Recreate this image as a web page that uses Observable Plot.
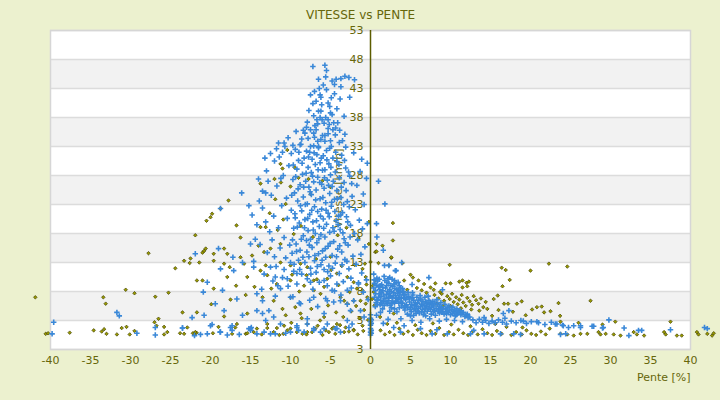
<!DOCTYPE html>
<html><head><meta charset="utf-8">
<script src="https://cdn.jsdelivr.net/npm/d3@7"></script>
<script src="https://cdn.jsdelivr.net/npm/@observablehq/plot@0.6"></script>
<style>html,body{margin:0;padding:0;background:#ecf1cf;}</style>
</head><body><div id="chart"></div>
<script>
const title = "VITESSE vs PENTE";
const xLabel = "Pente [%]";
const yLabel = "Vitesse [km/h]";
const xTicks = [-40,-35,-30,-25,-20,-15,-10,-5,0,5,10,15,20,25,30,35,40];
const yTickValues = [53,48,43,38,33,28,23,18,13,8,3,-2];
const yTickLabels = ["53","48","43","38","33","28","23","18","13","8","3","3"];
const bandStarts = [43,33,23,13,3];

// Blue series: [pente %, vitesse km/h]
const blueHigh = [[-7.2,46.8],[-5.7,47.0],[-5.5,46.1],[-6.5,44.6],[-4.8,44.3],[-4.3,44.6],[-3.7,44.7],[-3.2,45.1],[-2.7,44.9],[-2.0,44.5],[-4.5,43.7],[-3.7,43.3],[-5.5,42.8],[-7.5,41.9],[-6.3,41.9],[-6.2,41.5],[-4.5,42.1],[-3.8,41.2],[-7.2,40.4],[-6.1,40.2],[-5.3,40.5],[-5.1,39.9],[-4.2,39.5],[-6.5,39.1],[-6.2,39.1],[-5.0,38.8],[-4.8,38.5],[-7.1,38.3],[-6.3,38.0],[-6.7,37.6],[-5.6,38.0],[-5.3,37.6],[-6.6,36.9],[-5.8,37.0],[-4.6,37.1],[-4.1,37.1],[-8.0,36.3],[-7.5,35.9],[-6.8,35.9],[-5.3,36.1],[-4.7,35.9],[-8.2,35.3],[-7.1,35.3],[-6.0,34.9],[-5.7,34.9],[-5.3,35.2],[-4.4,35.0],[-3.2,35.1],[-11.5,33.6],[-10.8,33.6],[-8.6,34.3],[-7.8,34.4],[-6.6,33.9],[-5.7,33.9],[-5.0,34.0],[-3.9,33.7],[-3.5,34.0],[-11.75,32.6],[-9.7,33.2],[-8.8,33.3],[-7.5,33.0],[-6.5,33.0],[-5.1,32.7],[-3.1,32.9],[-1.1,30.8],[-0.4,30.1],[-0.5,27.5],[1.0,27.0],[-0.9,24.8],[-16.1,25.0],[-14.0,27.4],[-15.2,22.8],[-13.5,25.3],[-13.1,25.0],[1.8,23.1],[0.75,19.7],[0.8,17.4],[1.6,15.1],[3.1,11.6],
[-8.4,35.8],[-7.9,37.2],[-6.95,36.6],[-6.05,37.6],[-5.15,36.8],[-4.35,36.2],[-3.85,35.8],[-3.3,38.2],[-2.6,41.5],[-7.7,39.2],[-6.8,40.8],[-5.9,43.6],[-4.9,41.4],[-5.6,45.0],[-6.4,43.0],[-7.0,42.5],[-10.3,34.5],[-9.3,35.6]];
const blueMid = [[-14.6,13.2],[-14.2,19.5],[-13.8,16.1],[-13.5,22.4],[-13.3,11.0],[-13.0,28.8],[-12.9,14.7],[-12.6,18.3],[-12.4,24.6],[-12.2,9.8],[-12.1,21.0],[-12.0,30.5],[-12.3,16.9],[-13.6,8.4],
[-11.8,12.3],[-11.7,26.2],[-11.5,19.0],[-11.4,31.2],[-11.3,15.5],[-11.1,22.8],[-11.0,10.4],[-10.9,28.0],[-10.8,17.3],[-10.7,33.0],[-10.6,13.8],[-10.5,24.1],[-10.4,20.6],[-10.3,8.9],[-10.2,29.7],[-10.1,16.0],[-11.9,7.2],[-11.2,27.5],
[-9.9,31.8],[-9.9,22.0],[-9.8,14.6],[-9.7,27.3],[-9.6,18.9],[-9.6,11.5],[-9.5,25.0],[-9.4,32.5],[-9.4,20.7],[-9.3,16.2],[-9.2,29.1],[-9.2,9.3],[-9.1,23.6],[-9.0,13.4],[-9.0,30.6],[-8.9,19.8],[-8.8,26.4],[-8.8,15.1],[-8.7,33.4],[-8.6,21.9],[-8.6,11.0],[-8.5,28.2],[-8.4,17.6],[-8.4,24.3],[-8.3,31.0],[-8.2,13.0],[-8.2,20.4],[-8.1,27.0],[-8.0,16.8],[-8.0,32.2],[-9.7,7.1],[-8.9,6.0],
[-7.9,23.1],[-7.9,10.2],[-7.8,29.4],[-7.8,18.5],[-7.7,14.0],[-7.7,26.0],[-7.6,32.0],[-7.6,21.3],[-7.5,12.0],[-7.5,17.0],[-7.4,28.5],[-7.4,24.7],[-7.3,30.8],[-7.3,15.6],[-7.2,20.0],[-7.2,8.4],[-7.1,26.9],[-7.1,33.1],[-7.0,13.3],[-7.0,22.6],[-6.9,18.0],[-6.9,29.9],[-6.8,25.5],[-6.8,11.3],[-6.7,31.6],[-6.7,16.4],[-6.6,21.8],[-6.6,27.7],[-6.5,14.5],[-6.5,32.8],[-6.4,19.2],[-6.4,9.6],[-6.3,24.0],[-6.3,30.2],[-6.2,12.6],[-6.2,17.8],[-6.1,26.5],[-6.1,22.2],[-6.0,28.9],[-6.0,15.0],[-7.6,6.5],[-6.6,5.4],[-7.0,34.6],[-6.2,34.2],
[-5.9,20.5],[-5.9,31.4],[-5.8,11.8],[-5.8,25.8],[-5.7,17.4],[-5.7,29.0],[-5.6,13.9],[-5.6,23.3],[-5.5,32.3],[-5.5,19.6],[-5.4,9.0],[-5.4,27.2],[-5.3,15.8],[-5.3,21.5],[-5.2,30.0],[-5.2,12.4],[-5.1,24.9],[-5.1,18.2],[-5.0,28.1],[-5.0,10.7],[-4.9,22.7],[-4.9,33.0],[-4.8,14.2],[-4.8,26.1],[-4.7,19.0],[-4.7,31.0],[-4.6,16.6],[-4.5,23.9],[-4.5,8.1],[-4.4,28.6],[-4.4,12.9],[-4.3,20.2],[-4.2,25.4],[-4.2,30.4],[-4.1,15.3],[-4.0,21.0],[-5.6,6.8],[-4.6,6.2],
[-3.9,27.6],[-3.9,11.1],[-3.8,18.7],[-3.7,24.2],[-3.6,31.5],[-3.6,14.8],[-3.5,21.6],[-3.4,9.7],[-3.3,26.8],[-3.3,17.1],[-3.2,13.5],[-3.1,29.3],[-3.0,20.9],[-2.9,23.5],[-2.8,16.0],[-2.7,11.9],[-2.6,27.9],[-2.5,19.4],[-2.4,8.6],[-2.3,24.4],[-2.2,14.1],[-2.1,31.9],[-2.0,18.0],[-3.7,7.4],[-2.9,5.8],
[-1.9,22.1],[-1.8,12.7],[-1.7,26.3],[-1.6,16.9],[-1.5,9.5],[-1.4,20.3],[-1.3,28.7],[-1.2,14.4],[-1.1,11.2],[-1.0,18.8],[-0.9,7.9],[-0.8,23.0],[-0.7,15.7],[-0.5,10.0],[-0.4,19.7],[-0.3,6.6],
[-9.85,24.6],[-9.75,16.9],[-9.65,29.8],[-9.55,12.7],[-9.45,21.4],[-9.35,27.8],[-9.25,14.9],[-9.15,19.1],[-9.05,25.7],[-8.95,32.0],[-8.85,11.8],[-8.75,22.8],[-8.65,17.0],[-8.55,30.1],[-8.45,13.9],[-8.35,26.0],[-8.25,19.0],[-8.15,23.0],[-8.05,28.4],[-7.95,14.8],[-7.85,20.6],[-7.75,31.2],[-7.65,16.0],[-7.55,25.2],[-7.45,11.0],[-7.35,22.0],[-7.25,27.9],[-7.15,18.6],[-7.05,31.9],[-6.95,14.2],[-6.85,23.8],[-6.75,20.2],[-6.65,12.3],[-6.55,29.0],[-6.45,17.1],[-6.35,26.8],[-6.25,21.0],[-6.15,31.0],[-6.05,13.4],[-5.95,24.2],[-5.85,18.9],[-5.75,27.6],[-5.65,15.4],[-5.55,22.0],[-5.45,30.7],[-5.35,11.4],[-5.25,26.3],[-5.15,20.9],[-5.05,16.3],[-4.95,29.4],[-4.85,23.4],[-4.75,12.0],[-4.65,27.0],[-4.55,18.4],[-4.45,21.8],[-4.35,32.0],[-4.25,14.0],[-4.15,24.0],[-4.05,19.5],[-3.95,29.9],[-3.85,15.9],[-3.75,21.2],[-3.65,26.0],[-3.55,12.6],[-3.45,18.1],[-3.35,23.0],[-3.25,30.6],[-3.15,16.4],[-3.05,25.4],[-2.95,13.2],[-2.85,20.0],[-2.75,28.6],[-2.65,22.6],[-2.55,17.4],[-2.45,10.3],[-2.35,26.6],
[-11.0,32.0],[-12.5,31.8],[-13.2,31.0],[-12.8,27.0],[-13.9,23.6],[-14.8,21.2],[-14.4,17.0],[-13.1,20.0],[-12.0,14.0],[-11.6,9.0],[-10.8,11.8],[-10.0,13.0]];
const blueLow = [[-18.75,22.3],[-15.0,16.2],[-21.9,14.5],[-19.0,15.4],[-17.2,13.9],[-16.0,13.0],[-18.75,11.9],[-17.1,11.6],[-14.6,12.2],[-20.4,9.6],[-20.9,7.9],[-18.5,8.2],[-16.7,6.7],[-19.4,5.9],[-22.3,3.5],[-20.8,3.9],[-19.8,2.3],[-17.5,1.8],[-16.0,3.9],[-14.2,4.7],[-13.5,4.2],[-12.7,4.7],[-12.1,3.6],[-11.25,2.4],[-13.1,3.0],[-23.5,1.7],[-18.75,1.0],[-15.0,1.6],[-10.0,1.0],[-9.2,1.8],[-7.1,1.6],[-6.25,1.0],[-4.4,1.6],[-5.4,2.4],[-7.9,3.3],[-5.8,4.2],[-2.9,3.0],[-2.5,4.7],[-2.1,6.4],[-3.75,6.4],[-5.4,6.4],[-7.1,7.0],[-8.75,5.9],[-10.0,7.0],[-11.25,8.5],[-10.4,10.2],[-11.9,10.5],[-12.5,12.2],[-9.2,11.1],[-7.5,9.6],[-5.8,9.9],[-4.2,9.3],[-4.8,8.2],[-2.9,8.2],[-1.5,9.3],[-1.25,4.7],[-0.8,3.6],[-14.2,7.6],[-13.5,6.4],[-18.3,4.7],
[-39.6,2.7],[-39.8,0.7],[-31.7,4.4],[-31.4,3.8],[-29.2,0.8],[-26.9,1.8],[-26.9,0.5],[-23.5,1.7],[-22.0,0.4],[-21.25,0.6],[-20.4,0.7],[-20.0,2.1],[-18.8,1.0],[-17.9,0.5],[-17.3,2.1],[-17.3,1.3],[-16.4,0.6],[-15.2,1.6],[-15.0,1.3],[-14.9,1.8],[-14.2,0.7],[-13.3,1.0],[-12.5,0.7],[-11.9,0.7],[-10.6,0.8],[-9.2,2.1],[-9.0,1.3],[-8.3,1.0],[-7.9,2.4],[-7.1,1.3],[-5.8,1.6],[-4.2,1.6],[-3.75,1.0],[-2.7,1.8],[-2.3,2.4],
[0,0.5],[0,1.0],[0,1.6],[0,2.2],[0,2.8],[0,3.4],[0,4.0],[0.1,1.3],[0.1,3.1],[0.1,2.5],[0.1,0.8]];
const blueUp = [[1.75,12.5],[2.3,12.5],[3.9,13.0],[3.2,11.6],[0.4,11.0],[2.4,10.4],[7.3,10.4],[5.2,9.2],[9.0,8.3],[0.75,3.9],[1.25,4.4],
[0.5,9.4],[0.6,8.2],[0.5,7.0],[0.7,6.1],[0.9,9.8],[1.0,8.8],[1.1,7.6],[0.9,6.6],[1.2,5.7],[1.4,9.2],[1.5,8.1],[1.3,7.1],[1.6,6.3],[1.8,9.9],[1.9,8.6],[2.0,7.5],[1.8,6.8],[2.1,5.9],[2.3,9.4],[2.4,8.3],[2.5,7.2],[2.3,6.4],[2.7,10.1],[2.8,8.9],[2.9,7.8],[2.7,6.9],[3.0,6.0],[3.2,9.5],[3.3,8.4],[3.1,7.3],[3.4,6.6],[3.6,9.0],[3.7,7.9],[3.5,7.0],[3.8,6.2],[4.0,8.5],[4.1,7.4],[3.9,5.5],[0.6,5.4],[1.5,5.0],[2.6,5.2],[0.8,10.3],[1.7,10.6],[2.2,10.2],[3.0,9.9],[1.2,9.0],[2.0,9.0],[2.6,8.0],[3.5,8.2],[1.0,7.0],[2.2,6.9],[3.2,6.8],[1.4,6.0],[2.8,6.2],[0.4,8.6],
[0.45,10.0],[0.7,9.1],[0.65,7.6],[0.8,6.5],[0.85,5.8],[1.1,10.1],[1.15,8.3],[1.25,6.5],[1.35,7.8],[1.55,8.7],[1.65,7.4],[1.7,5.6],[1.95,6.2],[2.05,9.6],[2.15,8.0],[2.35,7.7],[2.45,5.6],[2.55,9.0],[2.65,6.0],[2.85,7.3],[2.95,9.3],[3.05,8.5],[3.15,6.3],[3.35,7.7],[3.45,9.6],[3.55,6.0],[3.65,7.4],[3.75,8.6],[3.85,6.8],[3.95,7.9],
[4.3,7.5],[4.4,6.6],[4.5,5.7],[4.3,4.8],[4.6,4.1],[4.8,7.1],[4.9,6.2],[5.0,5.3],[5.1,4.5],[5.3,7.4],[5.4,6.5],[5.5,5.6],[5.6,4.8],[5.4,3.9],[5.8,7.0],[5.9,6.0],[6.0,5.1],[6.1,4.3],[6.3,6.7],[6.4,5.8],[6.5,4.9],[6.6,4.0],[6.8,7.0],[6.9,6.2],[7.0,5.4],[7.1,4.6],[7.3,6.5],[7.4,5.7],[7.5,4.9],[7.6,4.1],[7.8,6.3],[7.9,5.5],[8.0,4.7],[8.1,3.9],[8.3,6.6],[8.4,5.8],[8.5,5.0],[8.6,4.3],[8.8,6.1],[8.9,5.3],[9.0,4.5],[9.3,5.8],[9.4,5.0],[9.5,4.2],[9.8,5.5],[9.9,4.8],[10.0,4.0],[10.3,5.3],[10.4,4.5],[10.6,3.8],[10.8,5.0],[10.9,4.3],[11.2,4.7],[11.3,4.0],[11.6,4.4],[11.8,3.7],[12.1,4.1],[12.4,3.6],[4.0,6.0],[4.7,7.8],[5.2,6.9],[6.2,7.3],[5.7,4.2],[6.7,5.6],[7.7,5.9],[8.7,4.9],[9.6,5.2],[4.2,5.2],[5.0,3.8],[6.9,3.8],[7.2,7.2],[3.6,5.2],[3.0,5.0],[2.4,4.6],[3.3,4.5],
[4.15,8.0],[4.25,6.9],[4.35,5.5],[4.55,7.0],[4.65,5.2],[4.85,6.7],[4.95,4.9],[5.15,5.8],[5.25,7.8],[5.45,5.0],[5.6,6.1],[5.75,5.4],[5.9,4.6],[6.05,6.5],[6.25,5.4],[6.4,4.5],[6.55,6.3],[6.75,4.5],[6.85,5.0],[7.05,6.0],[7.2,5.1],[7.45,6.1],[7.65,5.3],[7.85,4.5],[8.05,6.0],[8.2,5.1],[8.45,4.6],[8.65,5.5],[8.85,4.4],[9.05,5.0],[9.2,4.1],[9.45,4.6],[9.7,4.4],[10.1,4.9],[10.25,4.2],[10.55,4.7],[10.75,4.0],[11.05,4.5],[11.45,4.3],[11.95,3.9],[12.2,3.5],
[12.8,3.1],[13.2,2.6],[13.6,3.2],[14.0,2.7],[14.4,3.0],[14.8,2.5],[15.2,2.9],[15.6,2.6],[16.0,3.1],[16.5,2.7],[17.0,2.4],[17.6,2.9],[18.2,2.6],[18.8,3.0],[19.5,2.5],[20.1,2.8],[21.0,2.6],[21.8,2.3],[22.6,2.7],[23.3,2.4],[24.0,2.2],[11.5,2.8],[10.5,3.0],[9.5,3.2],[8.6,2.9],[7.4,3.3],[6.3,2.7],[5.2,3.0],[3.8,3.3],[2.2,3.2],[1.6,2.5],[14.2,3.5],[16.8,3.4],
[16.6,4.2],[17.3,4.7],[19.1,2.9],[20.8,2.8],[23.1,2.4],[24.1,2.1],[24.75,1.8],[26.25,2.1],[27.7,2.0],[29.8,3.1],[29.1,1.8],[24.4,0.7],[17.9,0.7],[3.75,1.0],[6.25,1.6],[8.3,1.4],[12.9,1.3],
[27.9,2.0],[29.0,1.7],[31.7,1.7],[32.3,0.4],[33.5,1.3],[33.9,1.3],[37.5,1.4],[41.75,1.8],[42.1,1.6],[23.75,0.6],[25.4,2.1],[26.25,1.8],[18.75,0.6],[16.25,0.7],[14.2,0.7],[12.5,0.7],[9.6,0.7],[7.7,0.7],[2.9,1.8],[4.2,2.1]];

// Olive series: [pente %, vitesse km/h]
const oliveDown = [[-41.9,7.0],[-40.6,0.7],[-40.3,0.8],[-37.6,0.9],[-34.6,1.3],[-33.6,1.1],[-33.3,1.5],[-33.0,0.7],[-33.4,7.0],[-33.1,5.9],[-31.7,0.6],[-31.1,1.7],[-30.5,1.9],[-30.1,0.6],[-30.6,8.3],[-29.5,1.2],[-29.5,7.7],[-27.75,14.6],[-27.0,2.7],[-26.9,7.1],[-26.75,2.1],[-26.5,3.3],[-25.8,1.9],[-25.8,0.6],[-25.4,1.0],[-25.25,7.8],[-24.4,12.0],[-23.8,0.8],[-23.5,4.4],[-23.3,0.7],[-23.3,13.3],[-22.9,1.8],[-22.6,12.9],[-22.5,13.7],[-22.2,0.8],[-21.9,0.8],[-21.75,0.9],[-21.9,1.0],[-21.9,17.7],[-21.7,9.9],[-21.7,4.4],[-21.4,13.0],[-21.0,9.9],[-21.0,14.7],[-20.8,15.0],[-20.6,15.4],[-20.5,20.2],[-20.0,20.8],[-19.9,5.8],[-19.8,21.4],[-19.7,0.8],[-19.6,14.5],[-19.6,13.3],[-19.6,8.5],[-19.0,1.9],[-18.75,22.3],[-18.3,15.4],[-18.3,12.8],[-18.3,3.7],[-17.9,14.5],[-17.9,10.5],[-17.75,23.7],[-17.6,12.2],[-17.5,6.6],[-17.3,0.7],[-16.9,1.8],[-16.75,19.4],[-16.7,2.4],[-16.25,17.3],[-16.25,13.9],[-15.8,12.8],[-15.6,0.7],[-15.4,0.8],[-15.4,10.5],[-15.4,4.2],[-14.8,14.2],[-14.6,1.0],[-14.2,1.6],[-14.0,15.9],[-13.75,19.1],[-13.75,11.6],[-13.75,26.6],[-13.5,7.0],[-13.3,14.8],[-13.1,19.1],[-13.1,12.5],[-12.9,10.8],[-12.9,2.4],[-12.9,1.7],[-12.5,15.4],[-12.1,6.4],[-12.1,1.0],[-12.0,27.4],[-11.9,23.9],[-11.7,9.3],[-11.7,1.7],[-11.25,16.2],[-11.25,13.0],[-11.25,30.0],[-11.2,26.8],[-11.0,29.2],[-10.9,0.7],[-10.8,2.1],[-10.6,23.1],[-10.4,32.4],[-10.4,1.3],[-10.0,12.5],[-10.0,9.9],[-10.0,7.0],[-10.0,26.1],[-10.0,1.6],[-9.5,29.4],[-9.2,1.0],[-9.0,27.6],[-8.75,12.8],[-8.75,4.2],[-8.5,0.7],[-8.3,9.0],[-7.9,12.2],[-7.9,2.4],[-7.9,1.0],[-7.75,27.4],[-7.5,24.8],[-7.3,1.0],[-7.1,9.9],[-7.1,8.2],[-6.9,1.6],[-6.25,7.6],[-6.0,27.1],[-5.8,3.6],[-5.4,10.2],[-5.2,1.0],[-5.0,26.0],[-4.8,1.6],[-4.6,1.8],[-4.4,0.7],[-4.2,11.1],[-4.2,2.4],[-3.75,7.0],[-3.3,6.4],[-3.3,1.0],[-3.1,1.8],[-2.9,10.5],[-2.9,5.9],[-2.1,9.6],[-2.1,6.4],[-2.1,1.4],[-2.1,1.3],[-1.7,8.5],[-1.25,6.4],[-1.0,11.9],[-1.0,8.2],[-1.0,2.1],[-0.6,10.5],[-0.6,5.9],[-0.4,7.0],[-0.2,20.0],[-0.2,16.2],
[-12.6,21.5],[-11.6,18.6],[-10.9,20.4],[-9.6,17.9],[-8.7,19.3],[-7.2,17.4],[-6.8,13.6],[-5.0,14.0],[-4.1,17.7],[-3.0,19.0],[-2.0,12.6],[-1.5,17.2],[-9.8,10.9],[-8.9,8.0],[-8.0,10.8],[-6.7,10.1],[-5.8,8.8],[-4.9,11.7],[-4.0,9.1],[-3.6,12.4],[-2.6,7.9],[-1.8,5.5],[-9.4,5.3],[-8.6,3.4],[-7.4,5.0],[-6.3,3.0],[-5.3,5.6],[-4.3,4.4],[-3.4,3.6],[-2.4,4.6],[-1.4,3.4],[-0.8,4.8],[-0.3,3.1],[-0.5,9.2],[-0.7,12.8],[-11.0,5.0],[-12.4,8.5],[-14.5,8.8],[-15.6,7.4],[-16.8,9.0],[-10.6,3.9],[-9.9,2.6],[-6.6,2.1],[-5.6,1.3],[-3.8,2.2],[-2.7,1.1],[-1.6,0.6],[-0.9,1.2],[-8.0,0.6],[-6.0,0.5],[-11.4,0.5],[-13.6,0.6]];
const oliveUp = [[0.6,14.8],[2.6,13.8],[1.0,12.9],[0.75,16.2],[0.75,14.9],[1.5,15.9],[2.8,16.8],[2.8,19.8],[2.6,13.9],[4.0,12.9],[2.3,12.5],[0,13.1],[9.9,12.6],[16.4,12.1],[16.9,11.7],[20.0,11.6],[22.3,12.8],[24.6,12.3],[17.4,10.0],[16.5,8.9],[27.5,6.4],[23.5,6.0],[21.7,4.4],[22.5,4.6],[23.7,3.8],[29.0,2.3],[0.6,9.9],[0.3,9.0],[0.4,7.9],[0.2,6.7],[0.5,5.6],[5.0,10.9],[5.3,10.4],[4.2,9.9],[6.0,9.9],[6.7,9.3],[8.1,9.4],[9.4,9.4],[10.0,9.4],[11.1,9.7],[11.5,9.9],[12.0,9.5],[12.3,9.7],[11.5,8.7],[12.1,8.9],[7.5,8.7],[7.9,8.3],[8.7,7.9],
[8.0,7.4],[8.5,6.8],[8.9,7.6],[9.2,6.4],[9.6,7.2],[9.9,6.7],[10.2,7.6],[10.4,6.2],[10.7,7.0],[10.9,5.8],[11.1,6.6],[11.4,7.4],[11.6,6.1],[11.9,5.5],[12.1,6.9],[12.4,6.3],[12.7,5.7],[12.9,7.2],[13.2,6.5],[13.5,5.9],[13.8,6.8],[14.1,5.3],[14.4,6.2],[14.6,5.0],[10.0,5.5],[11.3,5.1],[12.6,4.9],[13.6,4.7],[9.1,5.6],[8.3,5.9],[7.0,7.8],[6.4,8.2],[15.4,6.7],[15.9,7.3],[16.7,5.9],[17.2,5.9],[18.3,5.9],[18.9,6.3],[20.8,5.3],[21.4,5.4],[16.0,4.8],[17.8,4.5],[19.4,3.9],[20.2,4.9],[15.2,3.8],[5.8,8.6],[4.6,8.3],
[1.25,1.3],[1.8,0.6],[2.4,1.0],[3.0,0.5],[3.6,1.6],[4.1,0.7],[4.7,1.1],[5.3,0.5],[5.9,1.4],[6.4,0.8],[7.0,0.5],[7.5,1.2],[8.1,0.7],[8.6,1.7],[9.2,0.5],[9.8,1.0],[10.4,0.6],[11.0,1.4],[11.6,0.8],[12.2,0.5],[12.8,1.1],[13.4,0.6],[14.0,1.5],[14.6,0.8],[15.2,0.5],[15.8,1.2],[16.4,0.7],[17.0,1.9],[17.6,0.5],[18.2,1.0],[18.9,0.6],[19.5,1.3],[20.1,0.7],[20.7,0.5],[21.3,1.1],[21.9,0.6],[22.4,1.6],[23.75,0.7],[24.6,0.6],[25.4,0.4],[26.25,0.7],[27.1,0.7],[28.5,1.0],[28.75,0.6],[29.4,0.7],[30.4,0.6],[31.25,0.4],[32.9,1.0],[33.3,0.6],[34.2,0.4],[36.7,1.0],[36.9,0.6],[38.3,0.4],[38.9,0.4],[40.8,1.0],[41.0,0.6],[42.1,0.7],[42.7,0.4],[42.9,0.8],[23.75,2.8],[30.6,2.8],[37.5,2.8],[26.0,2.6],[2.1,2.4],[3.3,2.6],[5.6,2.2],[7.8,2.5],[10.1,2.3],[12.5,2.0],[15.6,2.4],[19.0,1.8],[2.9,4.2],[1.2,3.6]];

const blue = [...blueHigh, ...blueMid, ...blueLow, ...blueUp];
const olive = [...oliveDown, ...oliveUp];
const yTicks = yTickValues.map((v, i) => ({v, label: yTickLabels[i]}));

const textColor = "#66660a";
const chart = Plot.plot({
  width: 720, height: 400,
  marginLeft: 50, marginRight: 30, marginTop: 30, marginBottom: 51,
  x: {domain: [-40, 40], axis: null},
  y: {domain: [-2, 53], axis: null},
  style: {background: "#ecf1cf", fontFamily: "DejaVu Sans", overflow: "visible"},
  marks: [
    Plot.frame({fill: "white", stroke: "none"}),
    Plot.rect(bandStarts, {y1: d => d, y2: d => d + 5, fill: "#f2f2f2"}),
    Plot.ruleY(yTickValues, {stroke: "#dcdcdc", strokeWidth: 1.3}),
    Plot.frame({stroke: "#d6d6d6", strokeWidth: 1.5}),
    Plot.text(xTicks, {x: d => d, frameAnchor: "bottom", dy: 14, fill: textColor, fontSize: 11}),
    Plot.text(yTicks, {x: () => 0, y: "v", text: "label", dx: -7, textAnchor: "end", fill: textColor, fontSize: 11}),
    Plot.text([yLabel], {x: () => -4, y: () => 25.8, rotate: -90, fill: textColor, fontSize: 11}),
    Plot.text([xLabel], {frameAnchor: "bottom-right", dy: 31, textAnchor: "end", fill: textColor, fontSize: 11}),
    Plot.text([title], {frameAnchor: "top", dx: -10, dy: -20, fill: textColor, fontSize: 12}),
    Plot.dot(olive, {x: d => d[0], y: d => d[1], symbol: "diamond2", r: 1.6, fill: "#999900", stroke: "#424200", strokeWidth: 0.7}),
    Plot.dot(blue, {x: d => d[0], y: d => d[1], symbol: "plus", r: 1.9, stroke: "#3a88d8", strokeWidth: 1.6}),
    Plot.ruleX([0], {stroke: "#5c5c00", strokeWidth: 1.5})
  ]
});
document.getElementById("chart").appendChild(chart);
</script></body></html>
